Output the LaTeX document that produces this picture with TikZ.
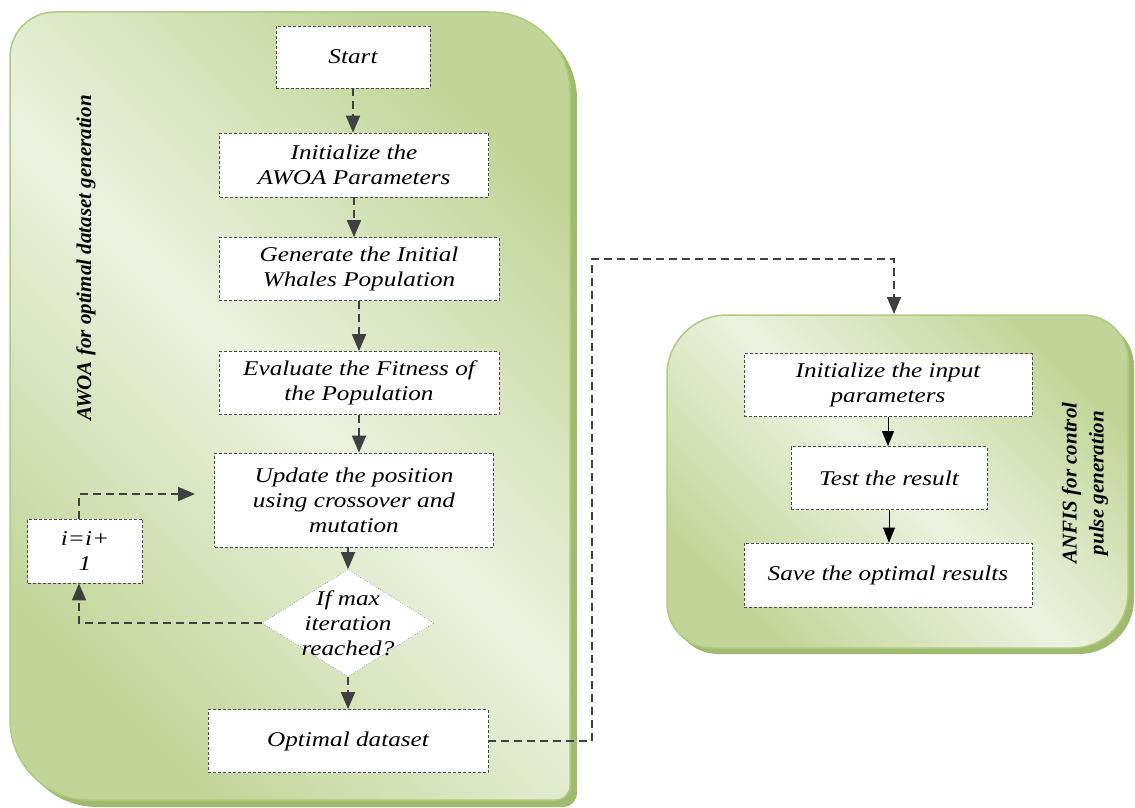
\documentclass[tikz,border=0pt]{standalone}
\usepackage{fontspec}
\setmainfont[FakeStretch=1.2]{Liberation Serif}
\newfontfamily\sidefont{Liberation Serif}
\usetikzlibrary{arrows.meta,shapes.geometric,positioning}
\definecolor{panelDark}{RGB}{194,213,152}
\definecolor{panelLight}{RGB}{236,242,224}
\definecolor{panelEdge}{RGB}{176,203,126}
\definecolor{panelShadow}{RGB}{160,186,112}
\definecolor{flowGray}{RGB}{64,64,64}

\begin{document}
\begin{tikzpicture}[x=1pt,y=-1pt]
      \tikzset{panel/.style={draw=panelEdge,line width=1.5pt,top color=panelDark,bottom color=panelDark,middle color=panelLight,shading angle=-45}}
      \tikzset{stepbox/.style={draw=black!70,dash pattern=on 3pt off 2pt,line width=.8pt,fill=white,align=center,inner sep=0pt,font=\fontsize{21}{25}\selectfont\itshape}}
      \tikzset{flow/.style={draw=flowGray,line width=1.8pt,dash pattern=on 8pt off 5pt,-{Triangle[length=17pt,width=14pt]}}}
      \tikzset{solidflow/.style={draw=black,line width=1pt,-{Triangle[length=15pt,width=12pt]}}}
      \tikzset{sidelabel/.style={rotate=90,align=center,font=\sidefont\fontsize{21}{27}\selectfont\bfseries\itshape}}
      \useasboundingbox (0,0) rectangle (1135,808);
      % AWOA panel
      \fill[panelShadow] (17,420) [rounded corners=45] |- (300,19) [rounded corners=80] -| (577,420) [rounded corners=14] |- (300,807) [rounded corners=80] -| (17,420) -- cycle;
      \path[panel] (10,420) [rounded corners=45] |- (300,12) [rounded corners=80] -| (570,420) [rounded corners=14] |- (300,800) [rounded corners=80] -| (10,420) -- cycle;
      % ANFIS panel
      \fill[panelShadow] (673,485) [rounded corners=60] |- (900,321) [rounded corners=45] -| (1134,485) [rounded corners=55] |- (900,654) [rounded corners=45] -| (673,485) -- cycle;
      \path[panel] (667,480) [rounded corners=60] |- (900,315) [rounded corners=45] -| (1128,480) [rounded corners=55] |- (900,648) [rounded corners=45] -| (667,480) -- cycle;
      \node[sidelabel] (awoalabel) at (86,258) {AWOA for optimal dataset generation};
      \node[sidelabel] (anfislabel) at (1085,483) {ANFIS for control\\pulse generation};
      % AWOA steps
      \node[stepbox,minimum width=154,minimum height=62] (start) at (353,57) {Start};
      \node[stepbox,minimum width=269,minimum height=64] (init) at (354,165) {Initialize the\\AWOA Parameters};
      \node[stepbox,minimum width=280,minimum height=63] (gen) at (359,269) {Generate the Initial\\Whales Population};
      \node[stepbox,minimum width=280,minimum height=63] (eval) at (359,383) {Evaluate the Fitness of\\the Population};
      \node[stepbox,minimum width=279,minimum height=94] (update) at (354,500) {Update the position\\using crossover and\\mutation};
      \node[stepbox,minimum width=115,minimum height=64] (inc) at (85,551) {i=i+\\1};
      \node[diamond,draw=gray,dotted,line width=.6pt,fill=white,inner sep=0pt,minimum width=172,minimum height=107,
            label={[align=center,font=\fontsize{21}{25}\selectfont\itshape]center:If max\\iteration\\reached?}] (check) at (348,623) {};
      \node[stepbox,minimum width=280,minimum height=63] (opt) at (348,741) {Optimal dataset};
      % ANFIS steps
      \node[stepbox,minimum width=288,minimum height=63] (input) at (888,385) {Initialize the input\\parameters};
      \node[stepbox,minimum width=196,minimum height=63] (test) at (889,478) {Test the result};
      \node[stepbox,minimum width=288,minimum height=64] (save) at (888,575) {Save the optimal results};
      \coordinate (loopend) at (195,494);
      \coordinate (bend) at (592,259);
      \coordinate (anfistop) at (894,314);
      % connectors
      \draw[flow] (start.south) -- (start.south |- init.north);
      \draw[flow] (init.south) -- (init.south |- gen.north);
      \draw[flow] (gen.south) -- (gen.south |- eval.north);
      \draw[flow] (eval.south) -- (eval.south |- update.north);
      \draw[flow] (update.south -| check.north) -- (check.north);
      \draw[flow] (check.south) -- (check.south |- opt.north);
      \draw[flow] (check.west) -| ([xshift=-6pt]inc.south);
      \draw[flow] ([xshift=-6pt]inc.north) |- (loopend);
      \draw[flow] (opt.east) -| (bend) -| (anfistop);
      \draw[solidflow] (input.south) -- (input.south |- test.north);
      \draw[solidflow] (test.south) -- (test.south |- save.north);
\end{tikzpicture}
\end{document}
